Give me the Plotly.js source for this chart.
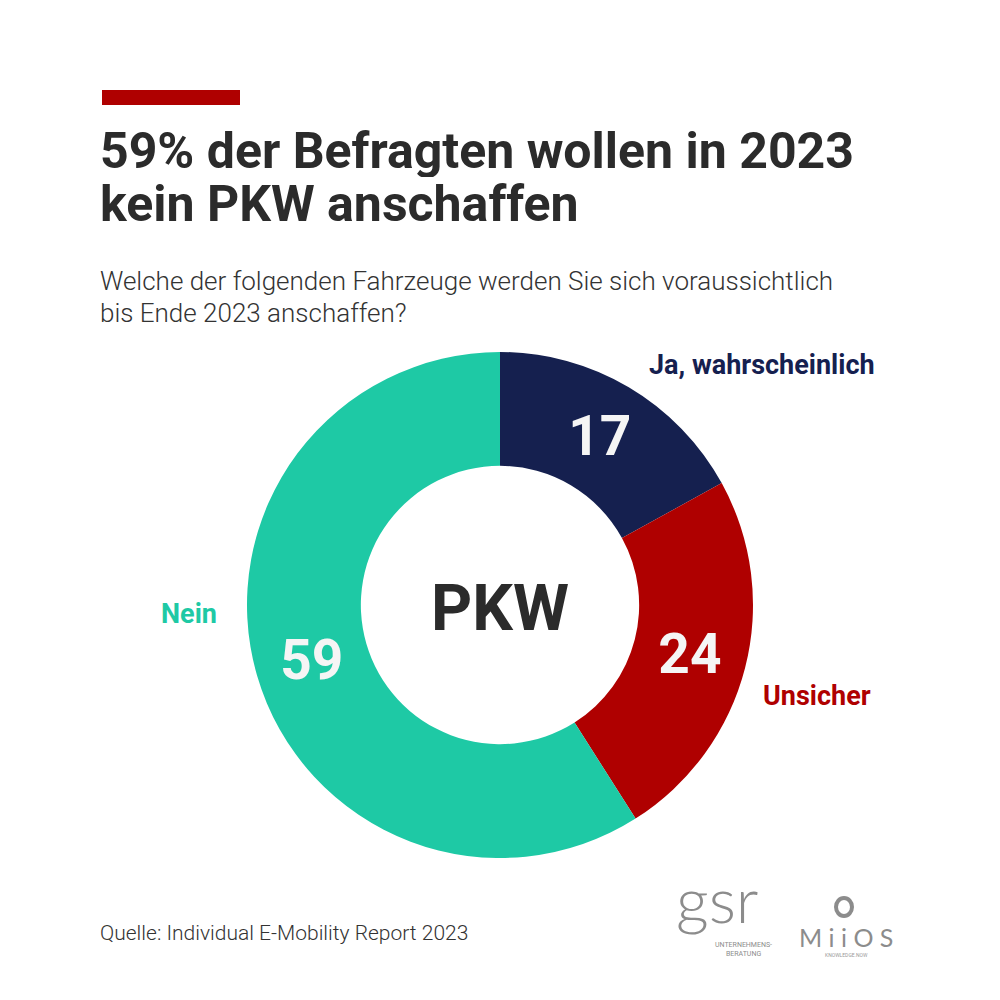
<!DOCTYPE html>
<html>
<head>
<meta charset="utf-8">
<script src="https://cdn.plot.ly/plotly-3.0.1.min.js"></script>
<style>html,body{margin:0;padding:0;background:#fff;}#chart{width:1000px;height:1000px;}</style>
</head>
<body>
<div id="chart"></div>
<script>
const categories = ["Ja, wahrscheinlich", "Unsicher", "Nein"];
const values = [17, 24, 59];
const colors = ["#15204f", "#af0000", "#1ec9a5"];
const centerLabel = "PKW";
const titleLines = ["59% der Befragten wollen in 2023", "kein PKW anschaffen"];
const subtitleLines = ["Welche der folgenden Fahrzeuge werden Sie sich voraussichtlich", "bis Ende 2023 anschaffen?"];
const sourceText = "Quelle: Individual E-Mobility Report 2023";

const ROB = "Roboto, sans-serif";
const px = v => v / 1000;
const py = v => 1 - v / 1000;

const trace = {
  type: "pie",
  labels: categories,
  values: values,
  sort: false,
  direction: "clockwise",
  rotation: 0,
  hole: 0.55,
  marker: {colors: colors, line: {color: "#ffffff", width: 0}},
  textinfo: "value",
  textposition: "inside",
  insidetextorientation: "horizontal",
  insidetextfont: {family: ROB, size: 55, color: "#f5f5f5", weight: 700},
  domain: {x: [px(247), px(753)], y: [py(858), py(352)]},
  showlegend: false,
  hoverinfo: "label+value"
};

function ann(text, x, y, size, color, weight, family, xanchor, yanchor, h) {
  const a = {
    text: text, x: px(x), y: py(y), xref: "paper", yref: "paper",
    xanchor: xanchor || "left", yanchor: yanchor || "middle", showarrow: false,
    font: {family: family, size: size, color: color, weight: weight || 400}
  };
  if (h) { a.height = h; a.valign = "middle"; }
  return a;
}

const annotations = [
  ann(titleLines[0], 98, 150, 50, "#2b2b2b", 700, ROB, "left", "middle", 53),
  ann(titleLines[1], 98, 204, 50, "#2b2b2b", 700, ROB, "left", "middle", 53),
  ann(subtitleLines[0], 98, 281, 26, "#333333", 300, ROB),
  ann(subtitleLines[1], 98, 313, 26, "#333333", 300, ROB),
  ann(categories[0], 647, 365, 27, colors[0], 700, ROB),
  ann(categories[1], 761, 696, 27, colors[1], 700, ROB),
  ann(categories[2], 219, 614, 27, colors[2], 700, ROB, "right"),
  ann(centerLabel, 500, 608, 64, "#2b2b2b", 700, ROB, "center"),
  ann(sourceText, 98, 933, 21, "#333333", 300, ROB),
  // logos
  ann("gsr", 674, 939, 64, "#8c8c8c", 300, "Lato, sans-serif", "left", "bottom"),
  ann("UNTERNEHMENS-<br>BERATUNG", 713, 939, 7, "#8c8c8c", 400, ROB, "left", "top"),
  ann("M i i O S", 846, 937, 25, "#8c8c8c", 400, "Lato, sans-serif", "center"),
  ann("KNOWLEDGE.NOW", 846, 955, 5, "#9a9a9a", 400, ROB, "center")
];

const shapes = [
  {type: "rect", xref: "paper", yref: "paper", x0: px(102), x1: px(240), y0: py(105), y1: py(90), fillcolor: "#af0000", line: {width: 0}},
  {type: "circle", xref: "paper", yref: "paper", x0: px(836), x1: px(852), y0: py(916), y1: py(898), fillcolor: "rgba(0,0,0,0)", line: {color: "#8c8c8c", width: 4}}
];

const layout = {
  width: 1000, height: 1000,
  margin: {l: 0, r: 0, t: 0, b: 0},
  paper_bgcolor: "#ffffff",
  plot_bgcolor: "#ffffff",
  annotations: annotations,
  shapes: shapes,
  showlegend: false
};

Plotly.newPlot("chart", [trace], layout, {displayModeBar: false, staticPlot: true});
</script>
</body>
</html>
